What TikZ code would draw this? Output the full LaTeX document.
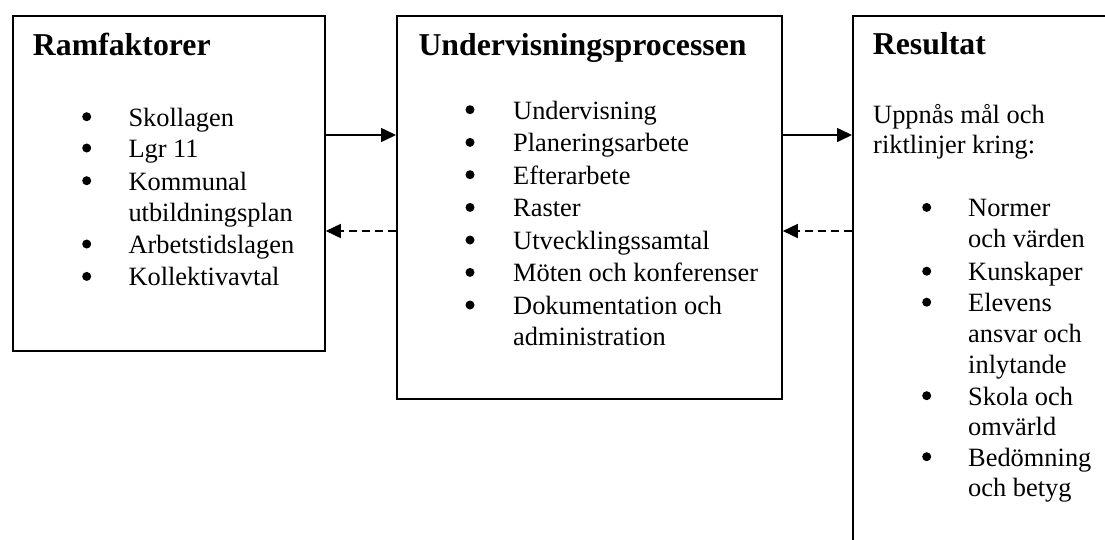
\documentclass[tikz,border=0pt]{standalone}
\usepackage{fontspec}
\setmainfont{Liberation Serif}
\usetikzlibrary{arrows.meta}
\begin{document}
\begin{tikzpicture}[x=1pt,y=-1pt,
  boxnode/.style={draw=black,line width=1.8pt,rectangle,inner sep=0pt,anchor=north west},
  ttl/.style={inner sep=0pt,anchor=base west,font=\fontsize{31.8}{36}\selectfont\bfseries},
  txt/.style={inner sep=0pt,anchor=base west,font=\fontsize{26.4}{30}\selectfont},
  bul/.style={circle,fill=black,inner sep=0pt,minimum size=9pt,yshift=9.3pt},
  arr/.style={line width=1.6pt,-{Triangle[length=15pt,width=14pt]}},
  darr/.style={arr,dash pattern=on 8pt off 5pt}]
\useasboundingbox (0,0) rectangle (1105,539);
\fill[white] (0,0) rectangle (1105,539);
% boxes
\node[boxnode,minimum width=312pt,minimum height=335pt] (rf) at (12,15) {};
\node[boxnode,minimum width=385pt,minimum height=383pt] (up) at (396,15) {};
\node[boxnode,minimum width=320pt,minimum height=600pt] (res) at (852,15) {};
% connector levels
\coordinate (ya) at (0,135);
\coordinate (yb) at (0,231);
\draw[arr] (rf.east |- ya) -- (up.west |- ya);
\draw[darr] (up.west |- yb) -- (rf.east |- yb);
\draw[arr] (up.east |- ya) -- (res.west |- ya);
\draw[darr] (res.west |- yb) -- (up.east |- yb);
% Ramfaktorer
\node[ttl] (rft) at (32.7,55) {Ramfaktorer};
\node[bul] (rb1) at (86.7,126) {};
\node[txt] (rt1) at (128.3,126) {Skollagen};
\node[bul] (rb2) at (86.7,157.3) {};
\node[txt] (rt2) at (128.3,157.3) {Lgr 11};
\node[bul] (rb3) at (86.7,190) {};
\node[txt] (rt3) at (128.3,190) {Kommunal};
\node[txt] (rt3b) at (128.3,221) {utbildningsplan};
\node[bul] (rb4) at (86.7,253.3) {};
\node[txt] (rt4) at (128.3,253.3) {Arbetstidslagen};
\node[bul] (rb5) at (86.7,285.7) {};
\node[txt] (rt5) at (128.3,285.7) {Kollektivavtal};
% Undervisningsprocessen
\node[ttl] (upt) at (418.3,55) {Undervisningsprocessen};
\node[bul] (ub1) at (470,119) {};
\node[txt] (ut1) at (513,119) {Undervisning};
\node[bul] (ub2) at (470,151.7) {};
\node[txt] (ut2) at (513,151.7) {Planeringsarbete};
\node[bul] (ub3) at (470,184) {};
\node[txt] (ut3) at (513,184) {Efterarbete};
\node[bul] (ub4) at (470,216.7) {};
\node[txt] (ut4) at (513,216.7) {Raster};
\node[bul] (ub5) at (470,249.3) {};
\node[txt] (ut5) at (513,249.3) {Utvecklingssamtal};
\node[bul] (ub6) at (470,281.7) {};
\node[txt] (ut6) at (513,281.7) {Möten och konferenser};
\node[bul] (ub7) at (470,314.3) {};
\node[txt] (ut7) at (513,314.3) {Dokumentation och};
\node[txt] (ut7b) at (513,345.7) {administration};
% Resultat
\node[ttl] (rst) at (872.7,54) {Resultat};
\node[txt] (rsi1) at (873,123.5) {Uppnås mål och};
\node[txt] (rsi2) at (873,153) {riktlinjer kring:};
\node[bul] (sb1) at (926.7,216.7) {};
\node[txt] (st1) at (968,216.7) {Normer};
\node[txt] (st1b) at (968,247.5) {och värden};
\node[bul] (sb2) at (926.7,280.5) {};
\node[txt] (st2) at (968,280.5) {Kunskaper};
\node[bul] (sb3) at (926.7,311.5) {};
\node[txt] (st3) at (968,311.5) {Elevens};
\node[txt] (st3b) at (968,342.5) {ansvar och};
\node[txt] (st3c) at (968,373) {inlytande};
\node[bul] (sb4) at (926.7,405) {};
\node[txt] (st4) at (968,405) {Skola och};
\node[txt] (st4b) at (968,435.5) {omvärld};
\node[bul] (sb5) at (926.7,466) {};
\node[txt] (st5) at (968,466) {Bedömning};
\node[txt] (st5b) at (968,496.5) {och betyg};
\end{tikzpicture}
\end{document}
